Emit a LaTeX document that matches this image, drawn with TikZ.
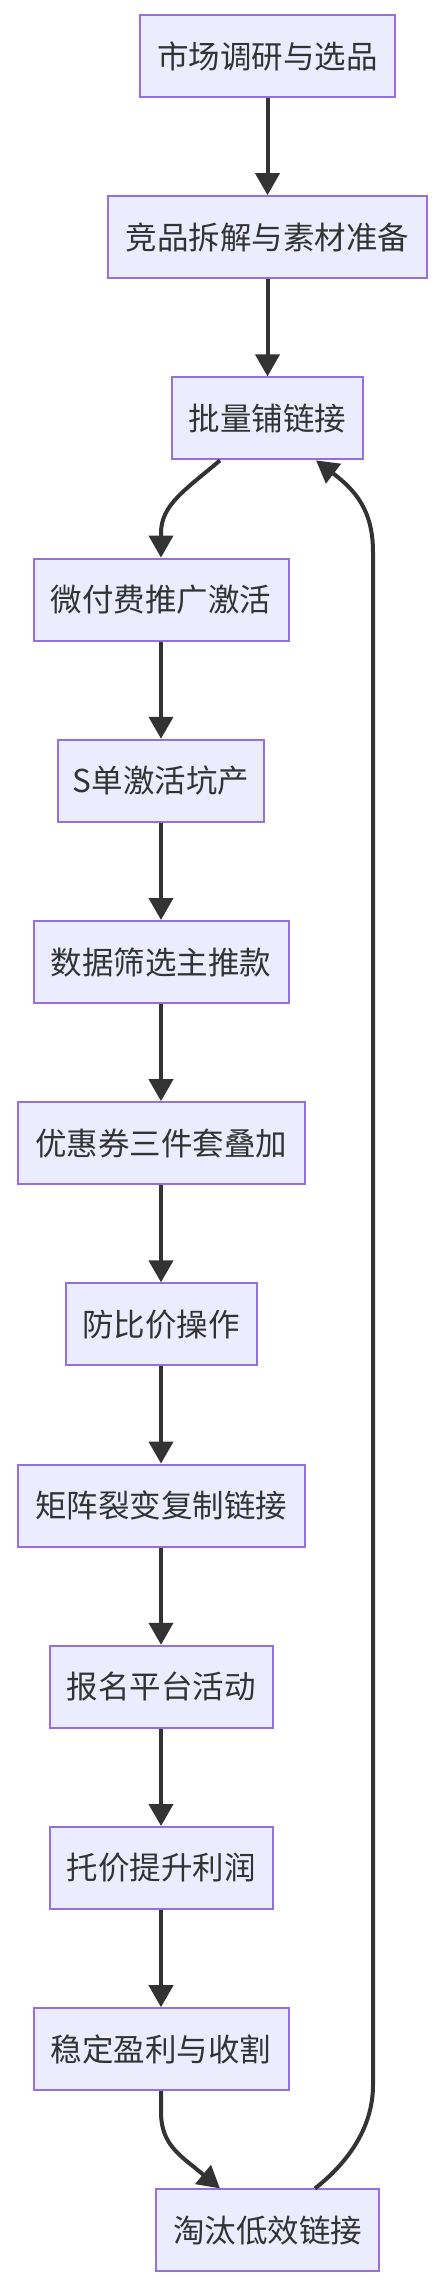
\documentclass[tikz,border=0pt]{standalone}
\usepackage{fontspec}
\setmainfont{Noto Sans CJK SC}
\usetikzlibrary{arrows.meta}
\definecolor{boxfill}{HTML}{ECECFF}
\definecolor{boxline}{HTML}{9370DB}
\definecolor{ink}{HTML}{333333}
\tikzset{
  stepbox/.style={draw=boxline, fill=boxfill, line width=2pt, text=ink,
    minimum height=82pt, inner sep=0pt, minimum width=#1,
    font=\fontsize{31.5pt}{38pt}\selectfont},
  arr/.style={draw=ink, line width=4pt,
    -{Triangle[length=22pt,width=24pt]}}
}
\begin{document}
\begin{tikzpicture}[x=1pt,y=-1pt]
\useasboundingbox (0,0) rectangle (444,2288);
\node[stepbox=255pt] (n1) at (267.5,56) {市场调研与选品};
\node[stepbox=319pt] (n2) at (267.5,237.2) {竞品拆解与素材准备};
\node[stepbox=191pt] (n3) at (267.5,418.4) {批量铺链接};
\node[stepbox=255pt] (n4) at (161,599.6) {微付费推广激活};
\node[stepbox=206pt] (n5) at (161,780.8) {S单激活坑产};
\node[stepbox=255pt] (n6) at (161,962) {数据筛选主推款};
\node[stepbox=287pt] (n7) at (161,1143.2) {优惠券三件套叠加};
\node[stepbox=191pt] (n8) at (161,1324.4) {防比价操作};
\node[stepbox=287pt] (n9) at (161,1505.6) {矩阵裂变复制链接};
\node[stepbox=223pt] (n10) at (161,1686.8) {报名平台活动};
\node[stepbox=223pt] (n11) at (161,1868) {托价提升利润};
\node[stepbox=255pt] (n12) at (161,2049.2) {稳定盈利与收割};
\node[stepbox=223pt] (n13) at (267.5,2230.4) {淘汰低效链接};

\draw[arr] (n1) -- (n2);
\draw[arr] (n2) -- (n3);
\draw[arr] ([xshift=-47.5pt]n3.south) .. controls (185,490) and (161,505) .. (161,533) -- (n4.north);
\draw[arr] (n4) -- (n5);
\draw[arr] (n5) -- (n6);
\draw[arr] (n6) -- (n7);
\draw[arr] (n7) -- (n8);
\draw[arr] (n8) -- (n9);
\draw[arr] (n9) -- (n10);
\draw[arr] (n10) -- (n11);
\draw[arr] (n11) -- (n12);
\draw[arr] (n12.south) -- (161,2112) .. controls (161,2140) and (175,2152) .. (194,2167) -- ([xshift=-47.5pt]n13.north);
\draw[arr] ([xshift=47.5pt]n13.north) .. controls (345,2165) and (373,2130) .. (373,2085) -- (373,552) .. controls (373,510) and (355,490) .. ([xshift=48.5pt]n3.south);
\end{tikzpicture}
\end{document}
